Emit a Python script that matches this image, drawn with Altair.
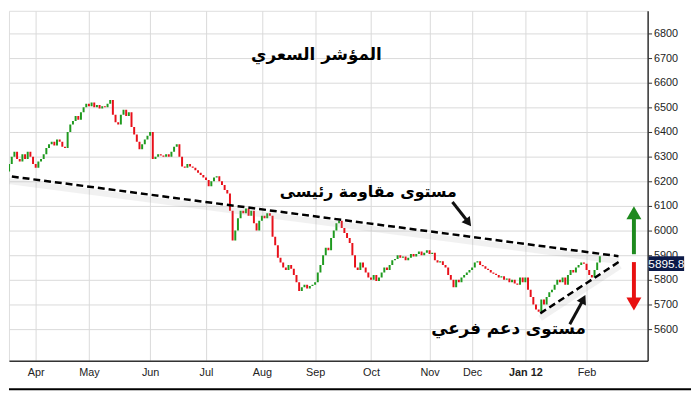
import altair as alt
import pandas as pd

# ---- data -----------------------------------------------------------------
first_open = 6390
closes = [
    6300, 6255, 6240,
    6270, 6300, 6320,
    6290, 6280,
    6310, 6290, 6320, 6300,
    6270, 6255,
    6280, 6290,
    6310, 6335, 6350,
    6360, 6345, 6370, 6360,
    6340, 6335,
    6400, 6430,
    6445, 6465, 6450,
    6480, 6500, 6515,
    6505, 6520, 6500, 6510, 6495, 6505, 6500, 6515,
    6530,
    6470, 6440,
    6430,
    6470, 6490, 6465, 6480,
    6420, 6390, 6360,
    6330,
    6350, 6370, 6385, 6400,
    6290,
    6300, 6310, 6305, 6300, 6310, 6300,
    6320, 6340, 6350,
    6300, 6260, 6255,
    6270, 6260, 6255, 6245,
    6235, 6225, 6215, 6205,
    6180, 6200, 6215,
    6220, 6200, 6185, 6165,
    6150, 6080, 5960,
    6000, 6050, 6080,
    6070, 6090, 6060,
    6080, 6030, 6000,
    6040, 6060, 6050, 6070,
    6060, 5975,
    5940, 5890,
    5870, 5850,
    5840, 5860, 5845, 5820,
    5790, 5755,
    5770, 5780, 5765, 5775, 5780, 5790,
    5830, 5860,
    5900, 5930, 5920, 5970,
    6000, 6030, 6040,
    6010, 5990, 5970, 5950,
    5900, 5850,
    5840, 5870, 5850,
    5830, 5810, 5800,
    5820, 5795, 5810,
    5830, 5850, 5840, 5860, 5880,
    5885, 5900, 5890, 5895, 5880, 5890, 5905, 5895,
    5905, 5915, 5900, 5910, 5920, 5905, 5910,
    5880, 5870, 5875, 5860,
    5850, 5820, 5800, 5770,
    5800, 5790, 5810, 5820, 5830, 5840,
    5850, 5870, 5875,
    5860, 5855, 5845, 5840, 5830, 5825, 5820, 5810,
    5815, 5800, 5805, 5790, 5800, 5785, 5780,
    5810, 5790, 5810, 5760,
    5730, 5700, 5680, 5670,
    5720, 5700, 5730, 5750, 5760, 5780,
    5800, 5790, 5810, 5780, 5820, 5840, 5830,
    5850, 5860, 5870, 5865,
    5840, 5820, 5810, 5840,
    5870, 5895.8,
]
last_price = 5895.8

month_labels = ["Apr", "May", "Jun", "Jul", "Aug", "Sep", "Oct", "Nov", "Dec", "Jan 12", "Feb"]
month_index = [13, 33, 56, 77, 98, 118, 139, 161, 177, 197, 220]
price_ticks = [5600, 5700, 5800, 5900, 6000, 6100, 6200, 6300, 6400, 6500, 6600, 6700, 6800]

resist_x = [0, 232]
resist_y = [6225, 5896]
support_x = [202.6, 232.6]
support_y = [5664, 5876]

title_text = "المؤشر السعري"
resist_text = "مستوى مقاومة رئيسى"
support_text = "مستوى دعم فرعي"

# ---- tables --------------------------------------------------------------
opens = [first_open] + closes[:-1]
bars = pd.DataFrame({
    "i": list(range(len(closes))),
    "open": opens,
    "close": closes,
})
bars["dir"] = ["up" if c >= o else "down" for o, c in zip(opens, closes)]

W, H = 648, 355
xscale = alt.Scale(domain=[2.96, 242.96], nice=False, zero=False)
yscale = alt.Scale(domain=[5472, 6892], nice=False, zero=False)

label_expr = "[" + ",".join("'%s'" % m for m in month_labels) + "][indexof([" + \
    ",".join(str(v) for v in month_index) + "], datum.value)]"

xaxis = alt.Axis(values=month_index, labelExpr=label_expr, grid=True,
                 gridColor="#d9d9d9", gridWidth=1, tickSize=0, domainColor="#333",
                 domainWidth=1.5, labelFont="Liberation Sans", labelFontSize=11,
                 labelColor="#222", labelPadding=6, title=None, labelOverlap=False,
                 labelFontWeight=alt.condition("datum.value == 197", alt.value("bold"), alt.value("normal")))
yaxis = alt.Axis(orient="right", values=price_ticks, tickCount=13, grid=True, gridColor="#d9d9d9",
                 gridWidth=1, tickSize=4, tickColor="#333", domainColor="#333",
                 domainWidth=1.5, labelFont="Liberation Sans", labelFontSize=11,
                 labelColor="#222", labelPadding=2, title=None, format="d",
                 labelOverlap=False)

def X(field):
    return alt.X(field, scale=xscale, axis=xaxis)

def Y(field):
    return alt.Y(field, scale=yscale, axis=yaxis)

candles = alt.Chart(bars).mark_rule(strokeWidth=2, clip=True).encode(
    x=X("i:Q"),
    y=Y("open:Q"),
    y2="close:Q",
    color=alt.Color("dir:N", scale=alt.Scale(domain=["up", "down"], range=["#1f9a1f", "#e8101a"]), legend=None),
)

res_df = pd.DataFrame({"x": resist_x, "y": resist_y})
sup_df = pd.DataFrame({"x": support_x, "y": support_y})

def line_layer(df, color, width, dash=None, opacity=1.0, yoff=0):
    kw = dict(color=color, strokeWidth=width, clip=True, opacity=opacity)
    if dash:
        kw["strokeDash"] = dash
    if yoff:
        kw["yOffset"] = yoff
    return alt.Chart(df).mark_line(**kw).encode(x=X("x:Q"), y=Y("y:Q"))

res_shadow = line_layer(res_df, "#a0a0a0", 6, opacity=0.15, yoff=5)
sup_shadow = line_layer(sup_df, "#a0a0a0", 6, opacity=0.15, yoff=5)
res_line = line_layer(res_df, "black", 2.5, dash=[7, 4])
sup_line = line_layer(sup_df, "black", 2.5, dash=[7, 4])

# texts
txt_df = pd.DataFrame({
    "x": [118.5, 138.0, 190.7],
    "y": [6712, 6156, 5600],
    "t": [title_text, resist_text, support_text],
    "s": [17, 16, 17],
})
txt_main = alt.Chart(txt_df).mark_text(font="DejaVu Sans", fontWeight="bold", color="black").encode(
    x=X("x:Q"), y=Y("y:Q"), text="t:N",
    size=alt.Size("s:Q", scale=None, legend=None))

# arrows
def shaft(x, y, x2, y2, color, width):
    d = pd.DataFrame({"x": [x], "y": [y], "x2": [x2], "y2": [y2]})
    return alt.Chart(d).mark_rule(color=color, strokeWidth=width).encode(
        x=X("x:Q"), y=Y("y:Q"), x2="x2:Q", y2="y2:Q")

def head(x, y, shape, angle, size, color):
    d = pd.DataFrame({"x": [x], "y": [y]})
    return alt.Chart(d).mark_point(shape=shape, angle=angle, size=size, filled=True,
                                   color=color, opacity=1).encode(x=X("x:Q"), y=Y("y:Q"))

arrows = [
    shaft(169.6, 6116, 175.0, 6042, "#111111", 3),
    shaft(213.7, 5620, 218.4, 5712, "#111111", 3),
    shaft(237.8, 5904, 237.8, 6075, "#1e8a1e", 4),
    shaft(237.8, 5872, 237.8, 5712, "#e81010", 4),
    head(175.6, 6032, "triangle-up", 143, 110, "#111111"),
    head(218.8, 5722, "triangle-up", 27, 110, "#111111"),
    head(237.8, 6072, "triangle-up", 0, 230, "#1e8a1e"),
    head(237.8, 5702, "triangle-down", 0, 230, "#e81010"),
]

# last price tag
tag_df = pd.DataFrame({"y": [last_price], "y2": [last_price - 60], "yc": [last_price - 30],
                       "t": ["%.1f" % last_price]})
tag_box = alt.Chart(tag_df).mark_rect(color="#0c1a48").encode(
    x=alt.value(W + 1), x2=alt.value(W + 37), y=Y("y:Q"), y2="y2:Q")
tag_txt = alt.Chart(tag_df).mark_text(color="white", font="Liberation Sans", fontSize=12).encode(
    x=alt.value(W + 19), y=Y("yc:Q"), text="t:N")

frame_df = pd.DataFrame({"k": [0]})
frame = alt.Chart(frame_df).mark_rule(color="black", strokeWidth=2).encode(
    x=alt.value(0), x2=alt.value(692), y=alt.value(384))

chart = alt.layer(
    candles, res_shadow, sup_shadow, res_line, sup_line,
    txt_main, *arrows, tag_box, tag_txt, frame,
).properties(width=W, height=H, padding=0).configure_view(stroke=None).configure(background="white")

chart.save("out.html", embed_options={"renderer": "svg", "actions": False})
